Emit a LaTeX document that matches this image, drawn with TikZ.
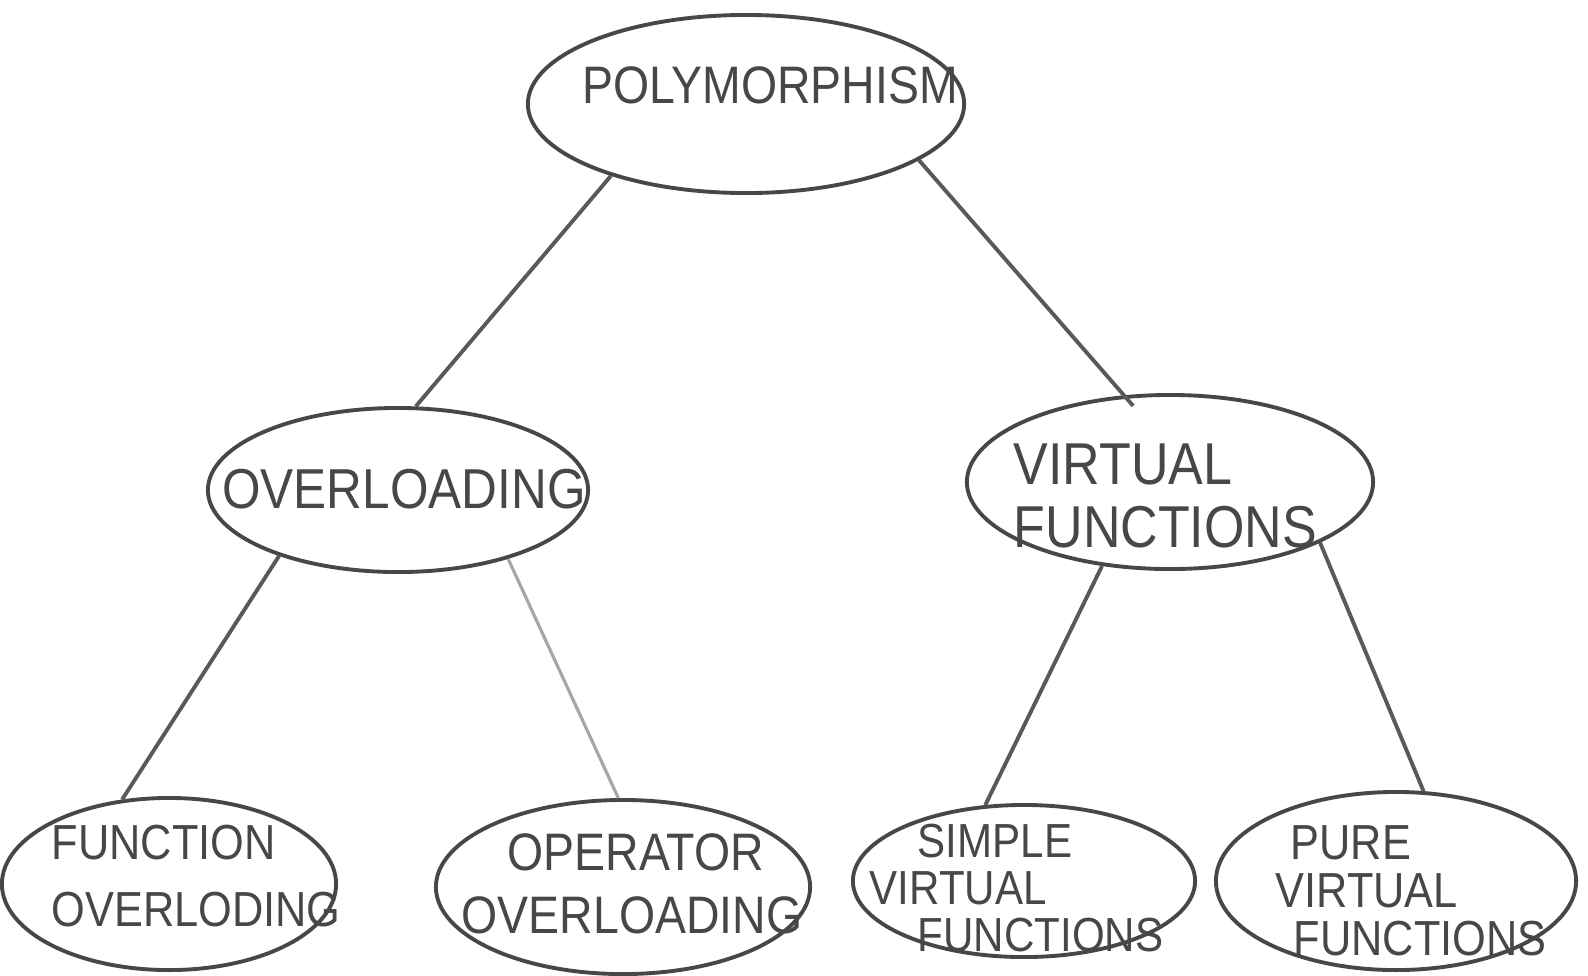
\documentclass[tikz,border=0pt]{standalone}
\usepackage{fontspec}
\setmainfont{Liberation Sans}
\newfontfamily\hand[FakeStretch=0.88]{Liberation Sans}
\usetikzlibrary{shapes.geometric}
\newcommand{\fs}[2]{\hand\fontsize{#1}{#2}\selectfont}
\begin{document}
\begin{tikzpicture}[x=0.01cm,y=-0.01cm,
  oval/.style={ellipse, draw=black!72, line width=1.1pt, inner sep=0pt},
  lbl/.style={inner sep=0pt, text=black!72, align=left},
  link/.style={draw=black!65, line width=1.1pt},
  faint/.style={draw=black!35, line width=0.9pt}]
\useasboundingbox[fill=white] (0,0) rectangle (1588,975);
% ellipses
\node[oval, minimum width=4.36cm, minimum height=1.78cm] (poly) at (746,104) {};
\node[oval, minimum width=3.80cm, minimum height=1.64cm] (ovl) at (398,490) {};
\node[oval, minimum width=4.06cm, minimum height=1.74cm] (vf) at (1170,482) {};
\node[oval, minimum width=3.34cm, minimum height=1.72cm] (fo) at (169,884) {};
\node[oval, minimum width=3.74cm, minimum height=1.74cm] (oo) at (623,887) {};
\node[oval, minimum width=3.42cm, minimum height=1.52cm] (svf) at (1024,881) {};
\node[oval, minimum width=3.60cm, minimum height=1.78cm] (pvf) at (1396,881) {};
% texts
\node[lbl, font=\fs{15}{18}] (polyT) at (770,85) {POLYMORPHISM};
\node[lbl, font=\fs{16}{19}] (ovlT) at (404,489) {OVERLOADING};
\node[lbl, font=\fs{16.8}{18}, anchor=west] (vfT) at (1013,496) {VIRTUAL\\FUNCTIONS};
\node[lbl, font=\fs{14}{19.3}, anchor=west] (foT) at (51,876) {FUNCTION\\OVERLODING};
\node[lbl, font=\fs{15}{18}, anchor=west] (ooT) at (461,884) {\hspace{0.46cm}OPERATOR\\OVERLOADING};
\node[lbl, font=\fs{13.6}{13.4}, anchor=west] (svfT) at (869,888) {\hspace{0.48cm}SIMPLE\\VIRTUAL\\\hspace{0.48cm}FUNCTIONS};
\node[lbl, font=\fs{14}{13.7}, anchor=west] (pvfT) at (1275,891) {\hspace{0.15cm}PURE\\VIRTUAL\\\hspace{0.18cm}FUNCTIONS};
% connectors
\draw[link] (poly.208) -- (ovl.78);
\draw[link, shorten >=-0.14cm] (poly.-18) -- (vf.118);
\draw[link] (ovl.209) -- (fo.119);
\draw[faint] (ovl.-32) -- (oo.93);
\draw[link] (vf.231) -- (svf.117);
\draw[link] (vf.-22) -- (pvf.73);
\end{tikzpicture}
\end{document}
